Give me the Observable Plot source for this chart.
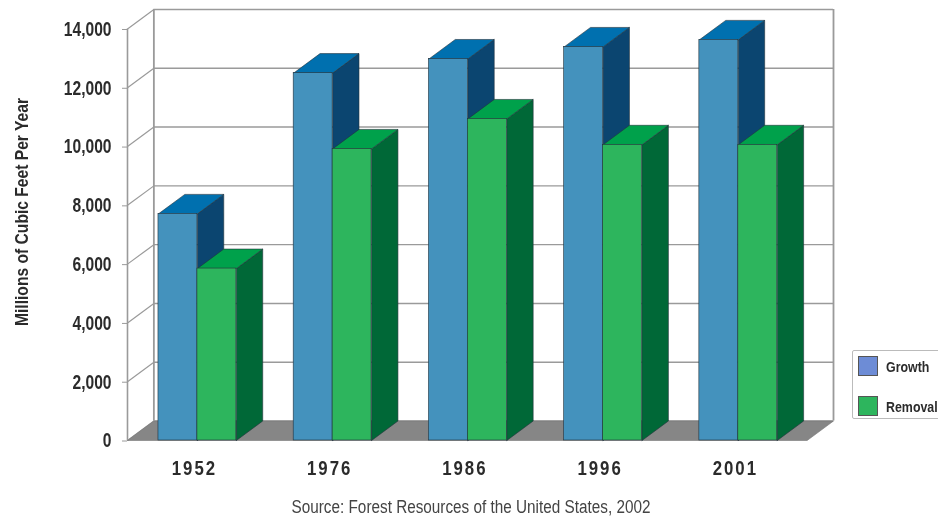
<!DOCTYPE html>
<html><head><meta charset="utf-8">
<script src="https://cdn.jsdelivr.net/npm/d3@7"></script>
<script src="https://cdn.jsdelivr.net/npm/@observablehq/plot@0.6"></script>
<style>
html,body{margin:0;padding:0;background:#fff;width:938px;height:521px;overflow:hidden;position:relative}
#wrap{filter:blur(0.5px);width:938px;height:521px;position:relative;overflow:hidden}
#wrap svg{display:block}
.txt{font-family:"Liberation Sans",sans-serif;font-weight:bold;color:#2b2b2b}
#source{position:absolute;left:0;width:942px;top:497px;text-align:center;font-size:18px;font-weight:normal;color:#444;transform:scaleX(.85);transform-origin:471px 0}
#legend{position:absolute;left:852px;top:350px;width:100px;height:69px;border:1px solid #bbb;border-radius:2px;background:#fff;box-sizing:border-box}
.sw{position:absolute;left:5px;width:20px;height:20px;border:1px solid #555;box-sizing:border-box}
.lab{position:absolute;left:33px;font-size:15.5px;line-height:18px;transform:scaleX(.8);transform-origin:0 0;white-space:nowrap}
</style></head><body>
<div id="wrap"><div id="chart"></div>
<div id="source" class="txt">Source: Forest Resources of the United States, 2002</div>
<div id="legend" class="txt">
<div class="sw" style="top:5px;background:#6d8cd6"></div><div class="lab" style="top:7px">Growth</div>
<div class="sw" style="top:45px;background:#2db55d"></div><div class="lab" style="top:47px">Removal</div>
</div></div>
<script>
const years = ["1952", "1976", "1986", "1996", "2001"];
const growth = [7710, 12500, 12980, 13390, 13630];
const removal = [5850, 9920, 10940, 10060, 10060];
const yTicks = [0, 2000, 4000, 6000, 8000, 10000, 12000, 14000];

const barW = 0.288, depthX = 0.195, depthY = 663;
const xLeft = -0.517, xRight = 4.509, yTop = 14000;
const colors = {
  growth: {front: "#4492bd", top: "#0070af", side: "#0b4570"},
  removal: {front: "#2db55d", top: "#00a14b", side: "#006837"}
};
const ink = "#23323c";

const poly = (pts, fill, stroke = fill) =>
  Plot.line([...pts, pts[0]].map(([x, y]) => ({x, y})), {x: "x", y: "y", fill, stroke, strokeWidth: 0.6, curve: "linear"});

function bar(x0, v, c) {
  const x1 = x0 + barW;
  return [
    poly([[x1, 0], [x1 + depthX, depthY], [x1 + depthX, v + depthY], [x1, v]], c.side, ink),
    poly([[x0, v], [x0 + depthX, v + depthY], [x1 + depthX, v + depthY], [x1, v]], c.top, ink),
    Plot.rect([{x0, x1, v}], {x1: "x0", x2: "x1", y1: 0, y2: "v", fill: c.front, stroke: ink, strokeWidth: 0.6})
  ];
}

const bars = years.flatMap((_, i) => [
  ...bar(i - barW, growth[i], colors.growth),
  ...bar(i, removal[i], colors.removal)
]);

const grey = "#9a9a9a";
const font = "Liberation Sans";
const chart = Plot.plot({
  width: 938, height: 485,
  marginLeft: 127, marginRight: 105, marginTop: 9, marginBottom: 45,
  x: {type: "linear", domain: [xLeft, xRight + depthX]},
  y: {type: "linear", domain: [0, yTop + depthY]},
  style: {background: "transparent", overflow: "hidden"},
  marks: [
    Plot.ruleY(yTicks, {y: d => d + depthY, x1: xLeft + depthX, x2: xRight + depthX, stroke: grey, strokeWidth: 1.4}),
    Plot.link(yTicks, {x1: xLeft, y1: d => d, x2: xLeft + depthX, y2: d => d + depthY, stroke: grey, strokeWidth: 1.2}),
    Plot.ruleX([xLeft], {y1: 0, y2: yTop, stroke: grey, strokeWidth: 1.6}),
    Plot.ruleX([xLeft + depthX, xRight + depthX], {y1: depthY, y2: yTop + depthY, stroke: grey, strokeWidth: 1.8}),
    poly([[xLeft, 0], [xLeft + depthX, depthY], [xRight + depthX, depthY], [xRight, 0]], "#868686", "#777"),
    ...bars,
    Plot.axisY({
      anchor: "left", ticks: yTicks, tickSize: 5, tickPadding: 11,
      tickFormat: d3.format(","), label: null, stroke: grey,
      fontSize: 20, fontWeight: "bold", fill: "#2b2b2b", fontFamily: font, dy: 0.5
    }),
    Plot.axisX({
      anchor: "bottom", ticks: [0, 1, 2, 3, 4], tickSize: 0, tickPadding: 20,
      tickFormat: i => years[i], label: null, dx: -3,
      fontSize: 21, fontWeight: "bold", fill: "#2b2b2b", fontFamily: font
    }),
    Plot.text(["Millions of Cubic Feet Per Year"], {
      frameAnchor: "left", rotate: -90, textAnchor: "middle", dx: -105, dy: -13,
      fontSize: 18, fontWeight: "bold", fill: "#2b2b2b", fontFamily: font
    })
  ]
});
document.getElementById("chart").appendChild(chart);

// The reference's condensed face is not installed: narrow the real text to its width.
function narrow(selector, ratio, target) {
  chart.querySelectorAll(selector).forEach(t => {
    const w = t.getComputedTextLength();
    t.setAttribute("textLength", target ?? w * ratio);
    t.setAttribute("lengthAdjust", "spacingAndGlyphs");
  });
}
narrow('[aria-label="y-axis tick label"] text', 0.78);
narrow('[aria-label="text"] text', 1, 228);
// Year labels are narrow digits set a little apart.
chart.querySelectorAll('[aria-label="x-axis tick label"] text').forEach(t => {
  t.setAttribute("style", "letter-spacing:2.5px");
  const tr = t.getAttribute("transform") || "";
  t.setAttribute("transform", tr + " scale(.8,1)");
});
</script>
</body></html>
